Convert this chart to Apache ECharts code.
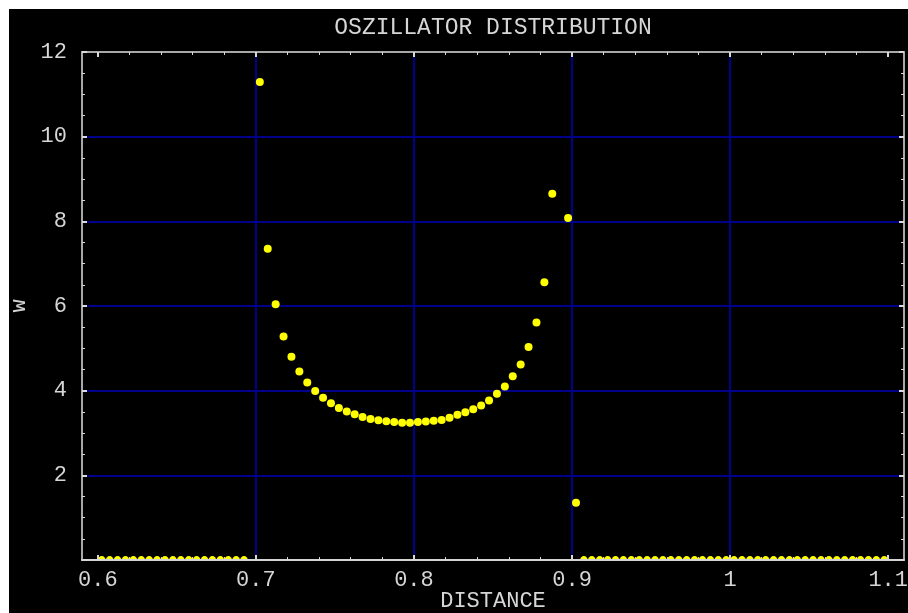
<!DOCTYPE html>
<html>
<head>
<meta charset="utf-8">
<script src="https://cdn.jsdelivr.net/npm/echarts@6/dist/echarts.min.js"></script>
<style>
  html, body { margin: 0; padding: 0; background: #fff; }
  #chart { position: absolute; left: 9px; top: 9px; width: 899px; height: 604px; }
</style>
</head>
<body>
<div id="chart"></div>
<script>
// x positions of the samples
const distance = [
  0.6025, 0.6075, 0.6125, 0.6175, 0.6225, 0.6275, 0.6325, 0.6375, 0.6425, 0.6475,
  0.6525, 0.6575, 0.6625, 0.6675, 0.6725, 0.6775, 0.6825, 0.6875, 0.6925,
  0.7025, 0.7075, 0.7125, 0.7175, 0.7225, 0.7275, 0.7325, 0.7375, 0.7425, 0.7475,
  0.7525, 0.7575, 0.7625, 0.7675, 0.7725, 0.7775, 0.7825, 0.7875, 0.7925, 0.7975,
  0.8025, 0.8075, 0.8125, 0.8175, 0.8225, 0.8275, 0.8325, 0.8375, 0.8425, 0.8475,
  0.8525, 0.8575, 0.8625, 0.8675, 0.8725, 0.8775, 0.8825, 0.8875, 0.8975, 0.9025,
  0.9075, 0.9125, 0.9175, 0.9225, 0.9275, 0.9325, 0.9375, 0.9425, 0.9475, 0.9525,
  0.9575, 0.9625, 0.9675, 0.9725, 0.9775, 0.9825, 0.9875, 0.9925, 0.9975, 1.0025,
  1.0075, 1.0125, 1.0175, 1.0225, 1.0275, 1.0325, 1.0375, 1.0425, 1.0475, 1.0525,
  1.0575, 1.0625, 1.0675, 1.0725, 1.0775, 1.0825, 1.0875, 1.0925, 1.0975
]
// oscillator density w at each distance
const w = [
  0, 0, 0, 0, 0, 0, 0, 0, 0, 0,
  0, 0, 0, 0, 0, 0, 0, 0, 0,
  11.29, 7.35, 6.04, 5.28, 4.80, 4.45, 4.19, 3.99, 3.83, 3.70,
  3.59, 3.51, 3.44, 3.38, 3.33, 3.30, 3.28, 3.26, 3.24, 3.24,
  3.26, 3.27, 3.29, 3.31, 3.36, 3.43, 3.49, 3.56, 3.65, 3.77,
  3.93, 4.10, 4.34, 4.62, 5.03, 5.61, 6.56, 8.65, 8.08, 1.35,
  0, 0, 0, 0, 0, 0, 0, 0, 0, 0,
  0, 0, 0, 0, 0, 0, 0, 0, 0, 0,
  0, 0, 0, 0, 0, 0, 0, 0, 0, 0,
  0, 0, 0, 0, 0, 0, 0, 0, 0
]
const xTickLabels = [0.6, 0.7, 0.8, 0.9, 1.0, 1.1]
const xMinorTicks = [
  0.62, 0.64, 0.66, 0.68, 0.72, 0.74, 0.76, 0.78, 0.82, 0.84, 0.86, 0.88,
  0.92, 0.94, 0.96, 0.98, 1.02, 1.04, 1.06, 1.08
]
const xGridLines = [0.7, 0.8, 0.9, 1.0]
const yGridLines = [2, 4, 6, 8, 10]

const font = "'Liberation Mono', 'DejaVu Sans Mono', monospace"
const textColor = '#d6d6d6'
const frameColor = '#a8a8a8'
const tickColor = '#d8d8d8'
const gridColor = '#00008a'

function xAxisBase (position) {
  return {
    type: 'value',
    position: position,
    min: 0.59,
    max: 1.11,
    z: 5,
    axisLine: { onZero: false, lineStyle: { color: frameColor, width: 2 } },
    splitLine: { show: false },
    axisLabel: { show: false },
    axisTick: { inside: true, length: 5, lineStyle: { color: tickColor, width: 2 }, customValues: xTickLabels }
  }
}

function xMinorAxis (position) {
  return {
    type: 'value',
    position: position,
    min: 0.59,
    max: 1.11,
    z: 5,
    axisLine: { show: false, onZero: false },
    splitLine: { show: false },
    axisLabel: { show: false },
    axisTick: { inside: true, length: 3, lineStyle: { color: tickColor, width: 1 }, customValues: xMinorTicks }
  }
}

// hidden axes that only carry the blue grid lines
function xGridAxis () {
  return {
    type: 'value',
    position: 'bottom',
    min: 0.59,
    max: 1.11,
    z: 1,
    axisLine: { show: false, onZero: false },
    axisLabel: { show: false },
    axisTick: { show: false, customValues: xGridLines },
    splitLine: { show: true, lineStyle: { color: gridColor, width: 2 } }
  }
}

function yAxisBase (position) {
  return {
    type: 'value',
    position: position,
    min: 0,
    max: 12,
    interval: 2,
    z: 5,
    axisLine: { onZero: false, lineStyle: { color: frameColor, width: 2 } },
    splitLine: { show: false },
    axisLabel: { show: false },
    axisTick: { inside: true, length: 5, lineStyle: { color: tickColor, width: 2 } },
    minorTick: { show: true, splitNumber: 4, length: 3, lineStyle: { color: tickColor, width: 1 } }
  }
}

function yGridAxis () {
  return {
    type: 'value',
    position: 'left',
    min: 0,
    max: 12,
    z: 1,
    axisLine: { show: false, onZero: false },
    axisLabel: { show: false },
    axisTick: { show: false, customValues: yGridLines },
    splitLine: { show: true, lineStyle: { color: gridColor, width: 2 } }
  }
}

const bottomAxis = xAxisBase('bottom')
bottomAxis.axisLine.lineStyle.color = '#d4d4d4'
bottomAxis.name = 'DISTANCE'
bottomAxis.nameLocation = 'middle'
bottomAxis.nameGap = 30
bottomAxis.nameMoveOverlap = false
bottomAxis.nameTextStyle = { color: textColor, fontFamily: font, fontSize: 22 }
bottomAxis.axisLabel = {
  show: true, customValues: xTickLabels, margin: 9,
  color: textColor, fontFamily: font, fontSize: 22
}

const topAxis = xAxisBase('top')
topAxis.name = 'OSZILLATOR DISTRIBUTION'
topAxis.nameLocation = 'middle'
topAxis.nameGap = 13
topAxis.nameTextStyle = { color: textColor, fontFamily: font, fontSize: 23 }

const leftAxis = yAxisBase('left')
leftAxis.name = 'w'
leftAxis.nameLocation = 'middle'
leftAxis.nameGap = 52
leftAxis.nameTextStyle = { color: textColor, fontFamily: font, fontSize: 22 }
leftAxis.axisLabel = {
  show: true, showMinLabel: false, margin: 15,
  color: textColor, fontFamily: font, fontSize: 22
}

// points lying on the axis show only their upper part in the original
const points = distance.map((d, i) => {
  if (w[i] === 0) {
    return {
      value: [d, w[i]],
      symbol: 'path://M0,10 A10,10 0 0 1 20,10 Z',
      symbolSize: [8, 5],
      symbolOffset: [0, -1.5]
    }
  }
  return [d, w[i]]
})

const chart = echarts.init(document.getElementById('chart'))
chart.setOption({
  backgroundColor: '#000',
  animation: false,
  grid: { left: 73, top: 43, right: 4, bottom: 53, containLabel: false, outerBoundsMode: 'none' },
  xAxis: [bottomAxis, topAxis, xMinorAxis('bottom'), xMinorAxis('top'), xGridAxis()],
  yAxis: [leftAxis, yAxisBase('right'), yGridAxis()],
  series: [
    {
      type: 'scatter',
      xAxisIndex: 0,
      yAxisIndex: 0,
      z: 2,
      symbolSize: 8,
      itemStyle: { color: '#ffff00', opacity: 1 },
      data: points
    }
  ]
})
</script>
</body>
</html>
